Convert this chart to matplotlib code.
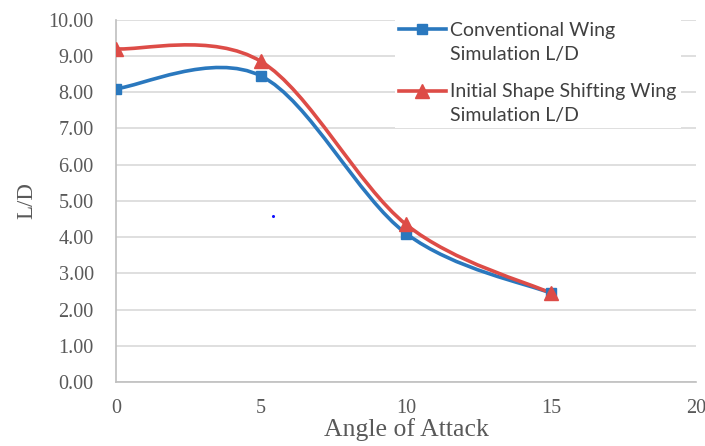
import numpy as np
import matplotlib
matplotlib.use("Agg")
import matplotlib.pyplot as plt
from matplotlib.path import Path
from matplotlib.patches import PathPatch
from matplotlib.lines import Line2D
from matplotlib.legend_handler import HandlerLine2D

# data
angle = [0, 5, 10, 15]
conventional_ld = [8.10, 8.45, 4.10, 2.45]
shifting_ld = [9.20, 8.85, 4.35, 2.45]
series_names = ["Conventional Wing\nSimulation L/D",
                "Initial Shape Shifting Wing\nSimulation L/D"]
x_ticks = [0, 5, 10, 15, 20]
y_ticks = [0, 1, 2, 3, 4, 5, 6, 7, 8, 9, 10]
stray_dot = (5.42, 4.57)

BLUE = "#2A78BE"
RED = "#DD4C47"
TICK_GRAY = "#595959"
LEG_LINESPACING = 1.5


def smooth_path(xs, ys):
    # Excel style smoothed line: cubic bezier through every point,
    # control points from the neighbours (catmull-rom, 1/6 tension)
    pts = np.column_stack([xs, ys]).astype(float)
    n = len(pts)
    verts = [pts[0]]
    codes = [Path.MOVETO]
    for i in range(n - 1):
        p0 = pts[max(i - 1, 0)]
        p1 = pts[i]
        p2 = pts[i + 1]
        p3 = pts[min(i + 2, n - 1)]
        c1 = p1 + (p2 - p0) / 6.0
        c2 = p2 - (p3 - p1) / 6.0
        verts += [c1, c2, p2]
        codes += [Path.CURVE4] * 3
    return Path(verts, codes)


class RaisedLine(HandlerLine2D):
    # put the legend key level with the first line of a two line label
    def create_artists(self, legend, orig_handle, xdescent, ydescent,
                       width, height, fontsize, trans):
        arts = super().create_artists(legend, orig_handle, xdescent, ydescent,
                                      width, height, fontsize, trans)
        shift = 0.5 * LEG_LINESPACING * 0.9 * fontsize
        for a in arts:
            a.set_ydata(np.asarray(a.get_ydata()) + shift)
        return arts


fig = plt.figure(figsize=(7.05, 4.46), dpi=100)
ax = fig.add_axes([0.1645, 0.1435, 0.823, 0.812])

series = [(conventional_ld, BLUE, "s", 7.5),
          (shifting_ld, RED, "^", 9.5)]
handles = []
for vals, col, mk, ms in series:
    ax.add_patch(PathPatch(smooth_path(angle, vals), facecolor="none",
                           edgecolor=col, lw=2.6, capstyle="round",
                           joinstyle="round", zorder=3))
    ax.plot(angle, vals, linestyle="none", marker=mk, markersize=ms,
            color=col, zorder=4)
    handles.append(Line2D([], [], color=col, lw=2.6, marker=mk,
                          markersize=ms))

ax.plot(*stray_dot, marker="o", markersize=1.2, color="#1010ff", zorder=5)

ax.set_xlim(0, 20)
ax.set_ylim(0, 10)
ax.set_xticks(x_ticks)
ax.set_yticks(y_ticks)
ax.set_yticklabels([f"{v:.2f}" for v in y_ticks])
ax.grid(axis="y", color="#D9D9D9", lw=1.2)
ax.set_axisbelow(True)
for side in ["top", "right"]:
    ax.spines[side].set_visible(False)
for side in ["left", "bottom"]:
    ax.spines[side].set_color("#BFBFBF")
    ax.spines[side].set_linewidth(1.2)
ax.tick_params(length=0, labelsize=14.5, labelcolor=TICK_GRAY)
ax.tick_params(axis="y", pad=16)
ax.tick_params(axis="x", pad=12)
for lab in ax.get_xticklabels() + ax.get_yticklabels():
    lab.set_fontfamily("Liberation Serif")

ax.set_xlabel("Angle of Attack", fontsize=18.5, family="Liberation Serif",
              color=TICK_GRAY, labelpad=0)
ax.set_ylabel("L/D", fontsize=16.5, family="Liberation Serif",
              color=TICK_GRAY, labelpad=8)

leg = ax.legend(handles, series_names, loc="upper left",
                bbox_to_anchor=(395 / 705, 1 - 18 / 446),
                bbox_transform=fig.transFigure,
                handler_map={Line2D: RaisedLine()},
                prop={"family": "Lato", "size": 14},
                frameon=True, facecolor="white", edgecolor="none",
                fancybox=False, framealpha=1, handlelength=2.4,
                handletextpad=0.25, labelspacing=1.05, borderpad=0.2,
                borderaxespad=0)
for t in leg.get_texts():
    t.set_color("#404040")
    t.set_linespacing(LEG_LINESPACING)

fig.savefig("out.png", dpi=100)
